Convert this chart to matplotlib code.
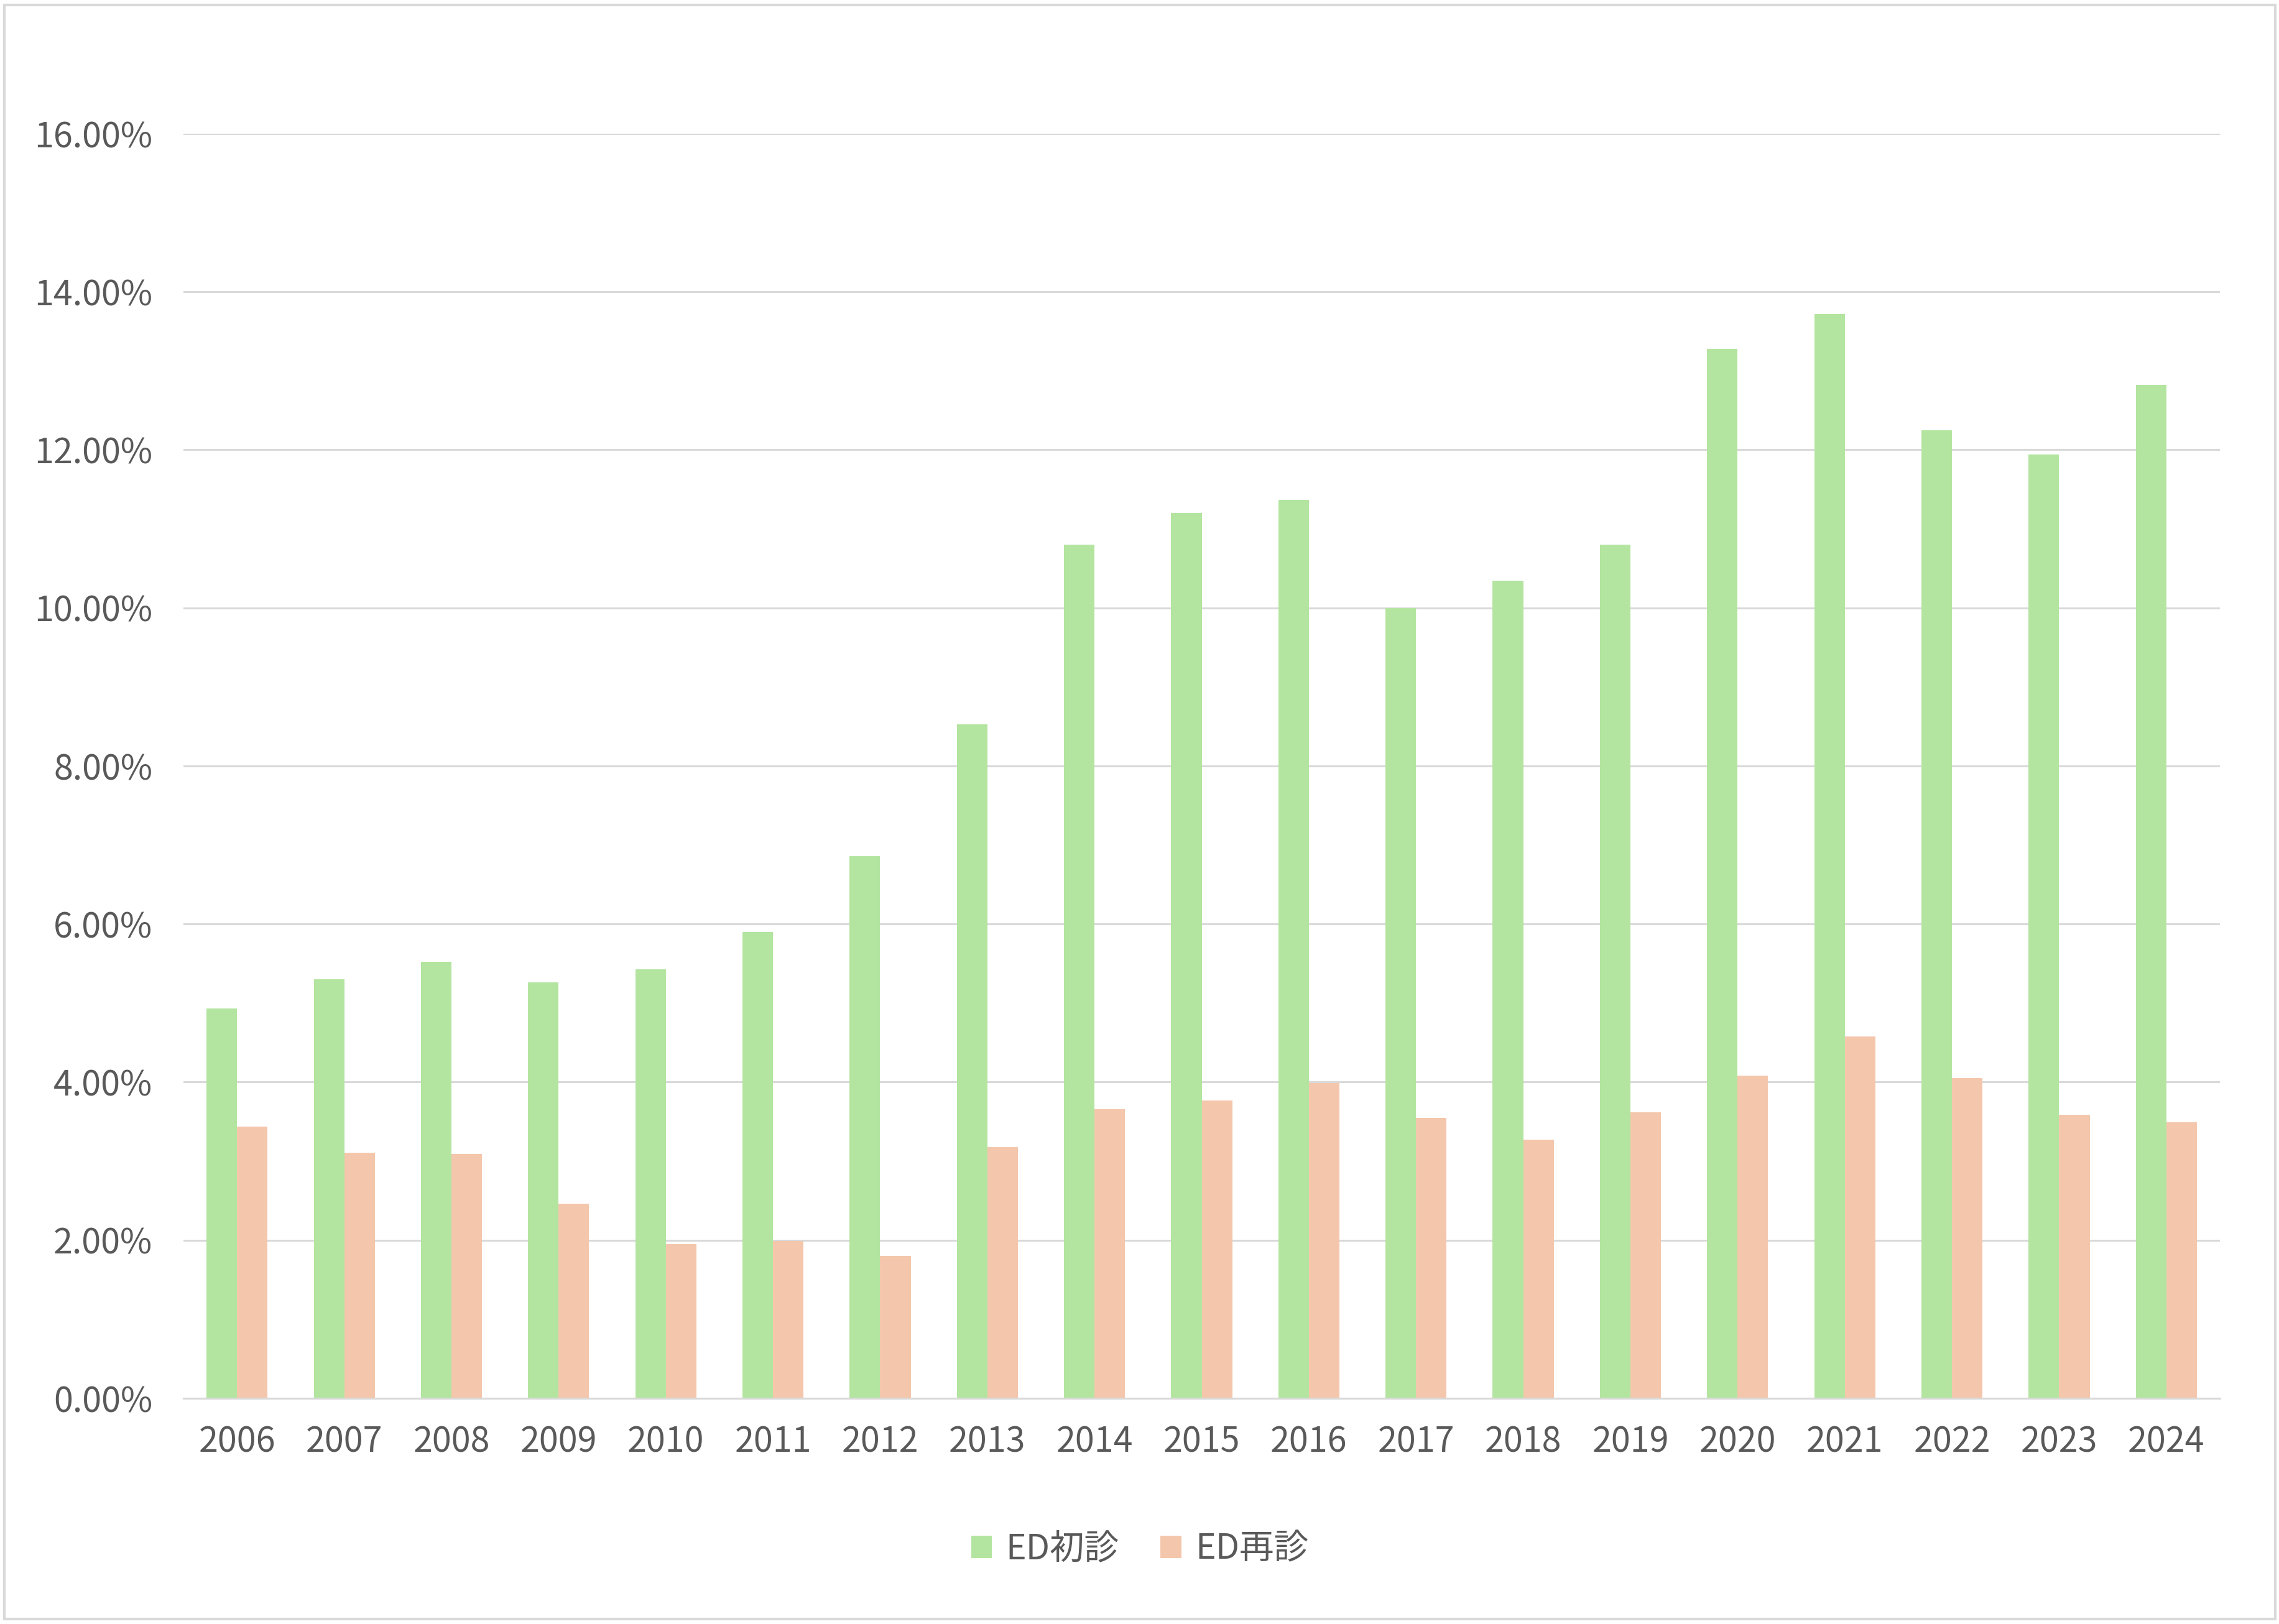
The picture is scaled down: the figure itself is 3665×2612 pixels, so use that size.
import matplotlib
matplotlib.use("Agg")
from matplotlib import pyplot as plt
from matplotlib.patches import Rectangle
from matplotlib.ticker import FuncFormatter, MultipleLocator
import numpy as np

plt.rcParams['font.family'] = ['Noto Sans CJK JP', 'DejaVu Sans']

years = [str(y) for y in range(2006, 2025)]
first_visit = [4.93, 5.30, 5.52, 5.26, 5.43, 5.90, 6.86, 8.53, 10.80, 11.20,
               11.37, 10.00, 10.34, 10.80, 13.28, 13.72, 12.25, 11.94, 12.82]
revisit = [3.44, 3.11, 3.09, 2.46, 1.95, 1.99, 1.80, 3.18, 3.66, 3.77,
           3.99, 3.55, 3.27, 3.62, 4.08, 4.58, 4.05, 3.59, 3.49]
series_names = ["ED初診", "ED再診"]

green = "#b3e5a0"
peach = "#f4c7ac"
text_color = "#595959"

fig = plt.figure(figsize=(36.66, 26.12), dpi=100)
ax = fig.add_axes([0.0805, 0.139, 0.8933, 0.7787])

x = np.arange(len(years))
w = 0.285
ax.bar(x - w / 2, first_visit, w, color=green, label=series_names[0], zorder=3)
ax.bar(x + w / 2, revisit, w, color=peach, label=series_names[1], zorder=3)

ax.set_xlim(-0.5, len(years) - 0.5)
ax.set_ylim(0, 16)
ax.yaxis.set_major_locator(MultipleLocator(2))
ax.yaxis.set_major_formatter(FuncFormatter(lambda v, p: f"{v:.2f}%"))
ax.set_xticks(x)
ax.set_xticklabels(years)

ax.grid(axis="y", color="#d9d9d9", linewidth=2.2, zorder=0)
for s in ["top", "right", "left"]:
    ax.spines[s].set_visible(False)
ax.spines["bottom"].set_color("#d9d9d9")
ax.spines["bottom"].set_linewidth(2.2)
ax.spines["bottom"].set_zorder(4)

ax.tick_params(axis="both", length=0, labelsize=40, colors=text_color)
ax.tick_params(axis="x", pad=30)
ax.tick_params(axis="y", pad=36)

leg = fig.legend(loc="center", bbox_to_anchor=(0.5, 0.046), ncol=2, frameon=False,
                 fontsize=40, handlelength=0.6, handleheight=0.6,
                 handletextpad=0.4, columnspacing=1.2)
for t in leg.get_texts():
    t.set_color(text_color)

# outer chart border
fig.patches.append(Rectangle((0.002, 0.003), 0.996, 0.994, transform=fig.transFigure,
                             fill=False, edgecolor="#d9d9d9", linewidth=3))

fig.savefig("out.png", dpi=100, facecolor="white")
